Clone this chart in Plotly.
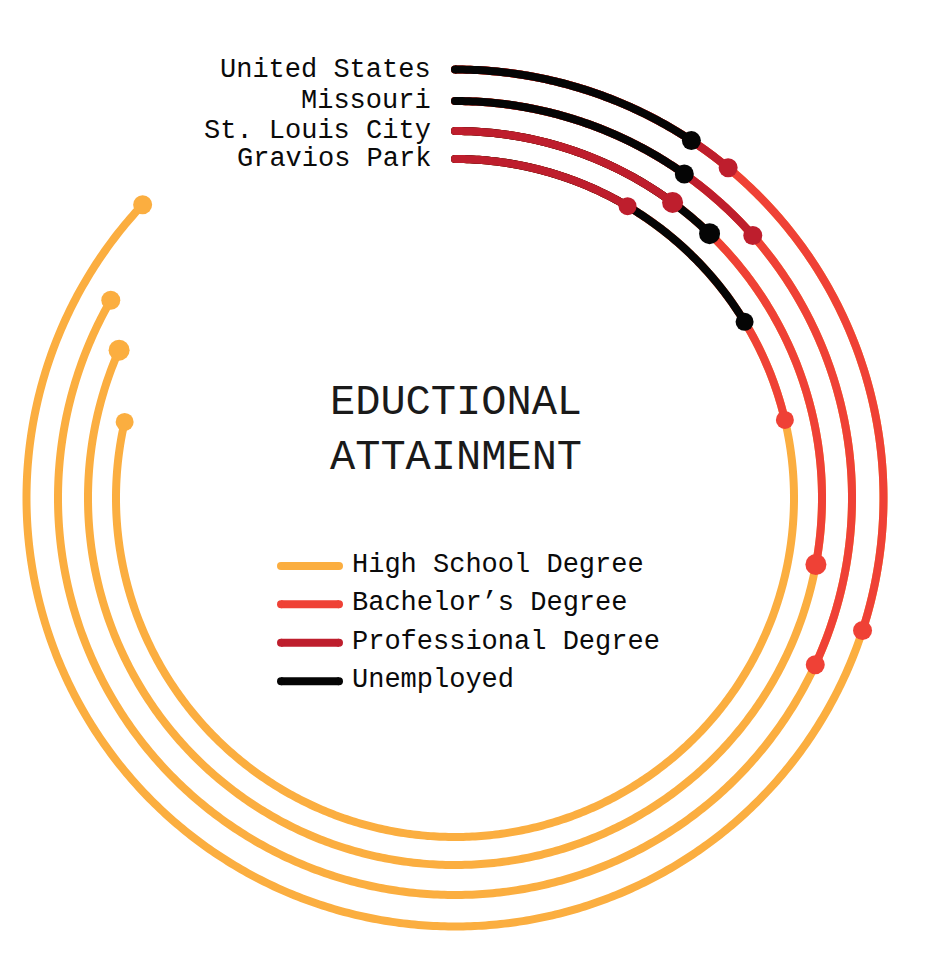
import numpy as np
import plotly.graph_objects as go

# ---------------- data (percent of a full circle) ----------------
regions = ["United States", "Missouri", "St. Louis City", "Gravios Park"]
categories = ["High School Degree", "Bachelor\u2019s Degree", "Professional Degree", "Unemployed"]
high_school = [87.0, 83.3, 81.6, 78.6]
bachelors = [30.0, 31.9, 27.9, 21.3]
professional = [11.0, 13.5, 10.1, 8.5]
unemployed = [9.3, 9.8, 12.2, 16.3]

# ---------------- style ----------------
W, H = 933, 969
CX, CY = 455, 498          # centre of the rings, px from top-left
HALF = 440                 # half size of polar domain in px
ring_radius = [428.5, 397, 367, 339]
dot_size = [19, 19, 21, 18]
colors = ["#FBAE40", "#EF4136", "#BE1E2D", "#050505"]
LW = 8
FONT = "Liberation Mono"
TXT = "#0a0a0a"
FS = 27

series = [high_school, bachelors, professional, unemployed]

fig = go.Figure()

for i, reg in enumerate(regions):
    vals = [(series[k][i], k) for k in range(4)]
    vals.sort(key=lambda t: -t[0])       # longest first, shortest on top
    for v, k in vals:
        deg = v * 3.6
        n = max(3, int(deg * 2))
        theta = np.linspace(0, deg, n)
        r = np.full(n, ring_radius[i])
        sizes = np.zeros(n)
        sizes[0] = LW
        sizes[-1] = dot_size[i]
        fig.add_trace(go.Scatterpolar(
            r=r, theta=theta, mode="lines+markers",
            line=dict(color=colors[k], width=LW),
            marker=dict(size=sizes, color=colors[k], opacity=1, line=dict(width=0)),
            hoverinfo="skip", showlegend=False,
            name=f"{reg} - {categories[k]}",
        ))

fig.update_layout(
    width=W, height=H,
    margin=dict(l=0, r=0, t=0, b=0),
    paper_bgcolor="white",
    plot_bgcolor="white",
    polar=dict(
        domain=dict(x=[(CX - HALF) / W, (CX + HALF) / W],
                    y=[(H - CY - HALF) / H, (H - CY + HALF) / H]),
        bgcolor="rgba(0,0,0,0)",
        radialaxis=dict(visible=False, range=[0, HALF]),
        angularaxis=dict(visible=False, rotation=90, direction="clockwise",
                         showgrid=False, showline=False, showticklabels=False, ticks=""),
    ),
)

annotations = []
# ring labels
for i, reg in enumerate(regions):
    y_px_from_bottom = H - CY + ring_radius[i]
    annotations.append(dict(
        text=reg, x=433 / W, y=y_px_from_bottom / H, xref="paper", yref="paper",
        xanchor="right", yanchor="middle", showarrow=False,
        font=dict(family=FONT, size=FS, color=TXT),
    ))

# title
annotations.append(dict(
    text="EDUCTIONAL<br>ATTAINMENT", x=456 / W, y=(H - 430) / H,
    xref="paper", yref="paper", xanchor="center", yanchor="middle",
    showarrow=False, font=dict(family=FONT, size=42, color="#1a1a1a"),
))

# custom legend
legend_y = [566, 604.3, 642.7, 681.3]
shapes = []
for k, cat in enumerate(categories):
    yp = (H - legend_y[k]) / H
    x0, x1 = 281, 339
    shapes.append(dict(type="line", xref="paper", yref="paper",
                       x0=x0 / W, x1=x1 / W, y0=yp, y1=yp,
                       line=dict(color=colors[k], width=LW)))
    for xc in (x0, x1):
        shapes.append(dict(type="circle", xref="paper", yref="paper",
                           x0=(xc - LW / 2) / W, x1=(xc + LW / 2) / W,
                           y0=yp - (LW / 2) / H, y1=yp + (LW / 2) / H,
                           fillcolor=colors[k], line=dict(width=0)))
    annotations.append(dict(
        text=cat, x=350 / W, y=(H - legend_y[k] + 1) / H, xref="paper", yref="paper",
        xanchor="left", yanchor="middle", showarrow=False,
        font=dict(family=FONT, size=FS, color=TXT),
    ))

fig.update_layout(annotations=annotations, shapes=shapes)

fig.write_html("out.html", config={"displayModeBar": False},
               post_script="document.body.style.margin='0';document.body.style.padding='0';")
